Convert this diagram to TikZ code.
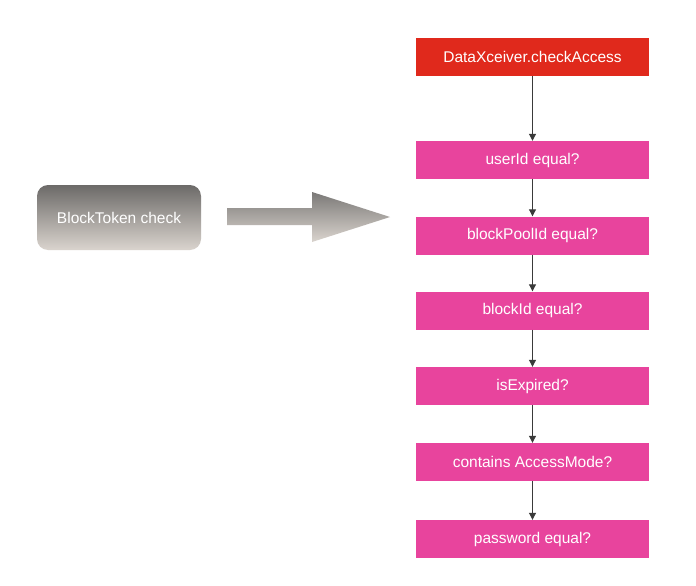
\documentclass[tikz,border=0pt]{standalone}
\usepackage{fontspec}
\setmainfont{Liberation Sans}
\usetikzlibrary{arrows.meta,shapes.arrows}
\definecolor{redbox}{HTML}{E0291C}
\definecolor{pinkbox}{HTML}{E8449D}
\definecolor{graytop}{HTML}{6C6A68}
\definecolor{graybot}{HTML}{DAD4CE}
\definecolor{linec}{HTML}{3A3A3A}
\begin{document}
\begin{tikzpicture}[x=1pt,y=-1pt,
  lbl/.style={text=white,font=\fontsize{15.5}{18}\selectfont},
  stepbox/.style={rectangle,minimum width=233pt,minimum height=38pt,inner sep=0pt,lbl},
  conn/.style={draw=linec,line width=1pt,-{Triangle[length=7pt,width=7pt]}}]
\useasboundingbox (0,0) rectangle (696,586);
\fill[white] (0,0) rectangle (696,586);
% left box
\shade[top color=graytop,bottom color=graybot,rounded corners=11pt] (37,185) rectangle (201,250);
\node[lbl] (bt) at (119,217.5) {BlockToken check};
% big arrow
\shade[top color=graytop!90!white,bottom color=graybot] (227,208) -- (312,208) -- (312,192) -- (390,217) -- (312,242) -- (312,225) -- (227,225) -- cycle;
% right column
\node[stepbox,fill=redbox] (a) at (532.5,57) {DataXceiver.checkAccess};
\node[stepbox,fill=pinkbox] (b) at (532.5,160) {userId equal?};
\node[stepbox,fill=pinkbox] (c) at (532.5,235.5) {blockPoolId equal?};
\node[stepbox,fill=pinkbox] (d) at (532.5,310.5) {blockId equal?};
\node[stepbox,fill=pinkbox] (e) at (532.5,386) {isExpired?};
\node[stepbox,fill=pinkbox] (f) at (532.5,462) {contains AccessMode?};
\node[stepbox,fill=pinkbox] (g) at (532.5,539) {password equal?};
\draw[conn] (a) -- (b);
\draw[conn] (b) -- (c);
\draw[conn] (c) -- (d);
\draw[conn] (d) -- (e);
\draw[conn] (e) -- (f);
\draw[conn] (f) -- (g);
\end{tikzpicture}
\end{document}
